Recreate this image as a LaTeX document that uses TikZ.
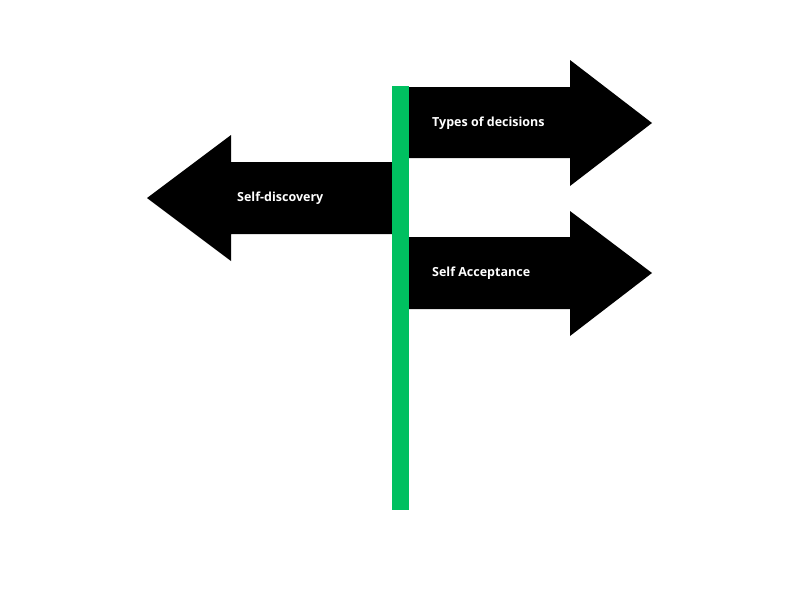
\documentclass[tikz,border=0pt]{standalone}
\usepackage{fontspec}
\setmainfont{Open Sans}
\definecolor{pole}{HTML}{00C060}
\begin{document}
\begin{tikzpicture}[x=1pt,y=-1pt,
  sign/.style={fill=black},
  lbl/.style={text=white,font=\bfseries\fontsize{12.5}{15}\selectfont,anchor=west,inner sep=0}]
\useasboundingbox (0,0) rectangle (800,600);
\fill[sign] (409,87) -- (570,87) -- (570,60) -- (652,123) -- (570,186) -- (570,158) -- (409,158) -- cycle;
\fill[sign] (409,237) -- (570,237) -- (570,211) -- (652,273) -- (570,336) -- (570,309) -- (409,309) -- cycle;
\fill[sign] (392,162) -- (231,162) -- (231,135) -- (147,198) -- (231,261) -- (231,234) -- (392,234) -- cycle;
\fill[pole] (392,86) rectangle (409,510);
\node[lbl] (t1) at (432,123) {Types of decisions};
\node[lbl] (t2) at (432,273) {Self Acceptance};
\node[lbl] (t3) at (237,198) {Self-discovery};
\end{tikzpicture}
\end{document}
